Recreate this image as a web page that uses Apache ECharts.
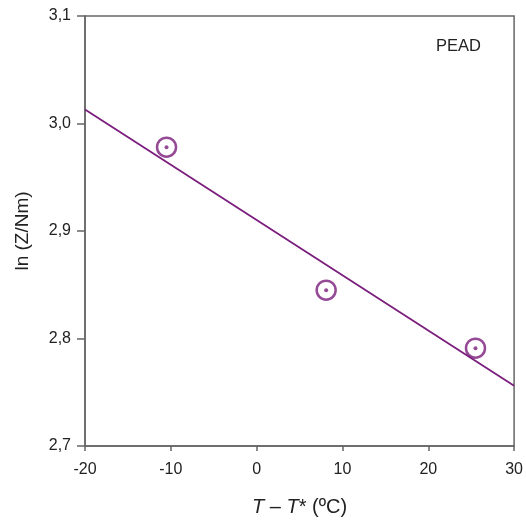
<!DOCTYPE html>
<html><head><meta charset="utf-8">
<script src="https://cdn.jsdelivr.net/npm/echarts@6/dist/echarts.min.js"></script>
<style>html,body{margin:0;padding:0;background:#fff}#c{width:526px;height:522px}</style>
</head><body><div id="c"></div>
<script>
const pointsX = [-10.5, 8.1, 25.5];
const pointsY = [2.978, 2.845, 2.791];
const fitX = [-20, 30];
const fitY = [3.013, 2.756];
const xTicks = [-20, -10, 0, 10, 20, 30];
const yTicks = [2.7, 2.8, 2.9, 3.0, 3.1];
const label = 'PEAD';
const col = '#7a1d7c';
const chart = echarts.init(document.getElementById('c'));
const pts = pointsX.map((x, i) => [x, pointsY[i]]);
const font = 'Liberation Sans, Arial, sans-serif';
chart.setOption({
  animation: false,
  textStyle: {fontFamily: font},
  grid: {left: 85, right: 8, top: 16, bottom: 75, show: true, borderColor: '#666', borderWidth: 1.5},
  xAxis: {type: 'value', min: xTicks[0], max: xTicks[xTicks.length-1], interval: 10,
    axisLine: {show: true, onZero: false, lineStyle: {color: '#666', width: 1.5}},
    axisTick: {show: true, length: 5, lineStyle: {color: '#666', width: 1.5}},
    splitLine: {show: false},
    axisLabel: {color: '#222', fontSize: 16, margin: 16},
    name: '{i|T} – {i|T}* (ºC)', nameLocation: 'middle', nameGap: 51,
    nameTextStyle: {color: '#222', fontSize: 20, rich: {i: {fontStyle: 'italic', fontSize: 20, color: '#222'}}}
  },
  yAxis: {type: 'value', min: yTicks[0], max: yTicks[yTicks.length-1], interval: 0.1,
    axisLine: {show: true, onZero: false, lineStyle: {color: '#666', width: 1.5}},
    axisTick: {show: true, length: 8, lineStyle: {color: '#666', width: 1.5}},
    splitLine: {show: false},
    axisLabel: {color: '#222', fontSize: 16, margin: 14, formatter: v => v.toFixed(1).replace('.', ',')},
    name: 'ln (Z/Nm)', nameLocation: 'middle', nameGap: 53,
    nameTextStyle: {color: '#222', fontSize: 19}
  },
  series: [
    {type: 'line', data: fitX.map((x, i) => [x, fitY[i]]), symbol: 'none',
      lineStyle: {color: col, width: 1.8}},
    {type: 'scatter', data: pts, symbol: 'circle', symbolSize: 19,
      itemStyle: {color: '#fff', borderColor: col, borderWidth: 2.5}},
    {type: 'scatter', data: pts, symbol: 'circle', symbolSize: 4,
      itemStyle: {color: col}}
  ],
  graphic: [{type: 'text', left: 436, top: 38, style: {text: label, fontSize: 16.5, fill: '#222', fontFamily: font}}]
});
</script></body></html>
